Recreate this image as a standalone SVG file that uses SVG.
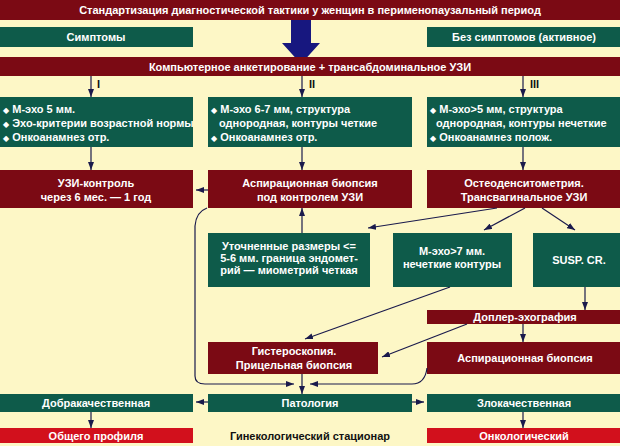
<svg xmlns="http://www.w3.org/2000/svg" width="620" height="446" viewBox="0 0 620 446">
<defs>
<style>
.bg{fill:#FDF7C6}
.dr{fill:#7B0A14}
.gr{fill:#0E5B4A}
.rd{fill:#D2101C}
text{font-family:"Liberation Sans","DejaVu Sans",sans-serif;font-weight:bold;font-size:11px;fill:#FFFFFF}
.c{text-anchor:middle}
.k{fill:#111111}
.b{font-size:8px}
.ln{stroke:#1A1A4C;stroke-width:1.2;fill:none}
</style>
<marker id="ah" viewBox="0 0 8 6" markerWidth="8" markerHeight="6" refX="8" refY="3" orient="auto" markerUnits="userSpaceOnUse">
<path d="M0,0 L8,3 L0,6 z" fill="#1A1A4C"/>
</marker>
</defs>
<rect class="bg" x="0" y="0" width="620" height="446"/>

<g id="title"><rect class="dr" x="0" y="0" width="620" height="20"/><text class="c" x="310" y="14">Стандартизация диагностической тактики у женщин в перименопаузальный период</text></g>
<g id="symptoms"><rect class="gr" x="0" y="27" width="193" height="20"/><text class="c" x="96" y="41">Симптомы</text></g>
<g id="nosymptoms"><rect class="gr" x="427" y="27" width="193" height="20"/><text class="c" x="524" y="41">Без симптомов (активное)</text></g>
<g id="bigarrow"><polygon points="291,20 311,20 311,43 320,43 301,64 282,43 291,43" fill="#17177F"/></g>
<g id="screening"><rect class="dr" x="0" y="57" width="620" height="19"/><text class="c" x="310" y="71">Компьютерное анкетирование + трансабдоминальное УЗИ</text></g>

<g id="labels"><text class="k" x="97" y="88">I</text><text class="k" x="309" y="88">II</text><text class="k" x="530" y="88">III</text></g>

<g id="g1"><rect class="gr" x="0" y="97" width="193" height="50"/>
<text x="3" y="113"><tspan class="b">◆</tspan> М-эхо 5 мм.</text>
<text x="3" y="127"><tspan class="b">◆</tspan> Эхо-критерии возрастной нормы</text>
<text x="3" y="141"><tspan class="b">◆</tspan> Онкоанамнез отр.</text></g>
<g id="g2"><rect class="gr" x="208" y="97" width="204" height="50"/>
<text x="211" y="113"><tspan class="b">◆</tspan> М-эхо 6-7 мм, структура</text>
<text x="219" y="127">однородная, контуры четкие</text>
<text x="211" y="141"><tspan class="b">◆</tspan> Онкоанамнез отр.</text></g>
<g id="g3"><rect class="gr" x="427" y="97" width="193" height="50"/>
<text x="430" y="113"><tspan class="b">◆</tspan> М-эхо&gt;5 мм, структура</text>
<text x="436" y="127">однородная, контуры нечеткие</text>
<text x="430" y="141"><tspan class="b">◆</tspan> Онкоанамнез полож.</text></g>

<g id="r1"><rect class="dr" x="0" y="170" width="193" height="38"/><text class="c" x="96" y="187">УЗИ-контроль</text><text class="c" x="96" y="201">через 6 мес. — 1 год</text></g>
<g id="r2"><rect class="dr" x="208" y="170" width="204" height="38"/><text class="c" x="310" y="187">Аспирационная биопсия</text><text class="c" x="310" y="201">под контролем УЗИ</text></g>
<g id="r3"><rect class="dr" x="427" y="170" width="193" height="38"/><text class="c" x="524" y="187">Остеоденситометрия.</text><text class="c" x="524" y="201">Трансвагинальное УЗИ</text></g>

<g id="sA"><rect class="gr" x="208" y="233" width="162" height="54"/><text class="c" x="289" y="250">Уточненные размеры &lt;=</text><text class="c" x="289" y="262">5-6 мм. граница эндомет-</text><text class="c" x="289" y="274">рий — миометрий четкая</text></g>
<g id="sB"><rect class="gr" x="393" y="233" width="119" height="54"/><text class="c" x="452" y="255">М-эхо&gt;7 мм.</text><text class="c" x="452" y="268">нечеткие контуры</text></g>
<g id="sC"><rect class="gr" x="533" y="233" width="87" height="54"/><text class="c" x="579" y="264">SUSP. CR.</text></g>

<g id="doppler"><rect class="dr" x="427" y="310" width="193" height="14"/><text class="c" x="525" y="321">Доплер-эхография</text></g>
<g id="hysteroscopy"><rect class="dr" x="208" y="342" width="170" height="32"/><text class="c" x="294" y="355">Гистероскопия.</text><text class="c" x="294" y="369">Прицельная биопсия</text></g>
<g id="aspiration"><rect class="dr" x="427" y="342" width="193" height="32"/><text class="c" x="525" y="362">Аспирационная биопсия</text></g>

<g id="benign"><rect class="gr" x="0" y="394" width="193" height="18"/><text class="c" x="96" y="407">Добракачественная</text></g>
<g id="pathology"><rect class="gr" x="208" y="394" width="204" height="18"/><text class="c" x="310" y="407">Патология</text></g>
<g id="malignant"><rect class="gr" x="427" y="394" width="193" height="18"/><text class="c" x="524" y="407">Злокачественная</text></g>
<g id="general"><rect class="rd" x="0" y="428" width="193" height="15"/><text class="c" x="96" y="440">Общего профиля</text></g>
<g id="hospital"><text class="c k" x="310" y="440">Гинекологический стационар</text></g>
<g id="oncology"><rect class="rd" x="427" y="428" width="193" height="15"/><text class="c" x="524" y="440">Онкологический</text></g>

<g id="connectors" class="ln">
<line x1="91" y1="76" x2="91" y2="97" marker-end="url(#ah)"/>
<line x1="302" y1="76" x2="302" y2="97" marker-end="url(#ah)"/>
<line x1="523" y1="76" x2="523" y2="97" marker-end="url(#ah)"/>
<line x1="91" y1="147" x2="91" y2="170" marker-end="url(#ah)"/>
<line x1="302" y1="147" x2="302" y2="170" marker-end="url(#ah)"/>
<line x1="523" y1="147" x2="523" y2="170" marker-end="url(#ah)"/>
<line x1="208" y1="190" x2="196" y2="190" marker-end="url(#ah)"/>
<line x1="302" y1="233" x2="302" y2="208" marker-end="url(#ah)"/>
<line x1="497" y1="208" x2="368" y2="228" marker-end="url(#ah)"/>
<line x1="525" y1="208" x2="484" y2="230" marker-end="url(#ah)"/>
<line x1="542" y1="208" x2="575" y2="230" marker-end="url(#ah)"/>
<line x1="585" y1="287" x2="585" y2="310" marker-end="url(#ah)"/>
<line x1="450" y1="287" x2="305" y2="339" marker-end="url(#ah)"/>
<line x1="523" y1="324" x2="523" y2="342" marker-end="url(#ah)"/>
<line x1="467" y1="324" x2="382" y2="357" marker-end="url(#ah)"/>
<path d="M207,208 Q196,212 195,226 L195,376 Q195,384 205,384 L294,384" marker-end="url(#ah)"/>
<path d="M427,368 Q425,384 412,384 L310,384" marker-end="url(#ah)"/>
<line x1="302" y1="374" x2="302" y2="394" marker-end="url(#ah)"/>
<line x1="208" y1="402" x2="196" y2="402" marker-end="url(#ah)"/>
<line x1="412" y1="402" x2="424" y2="402" marker-end="url(#ah)"/>
<line x1="91" y1="412" x2="91" y2="428" marker-end="url(#ah)"/>
<line x1="523" y1="412" x2="523" y2="428" marker-end="url(#ah)"/>
</g>
</svg>
